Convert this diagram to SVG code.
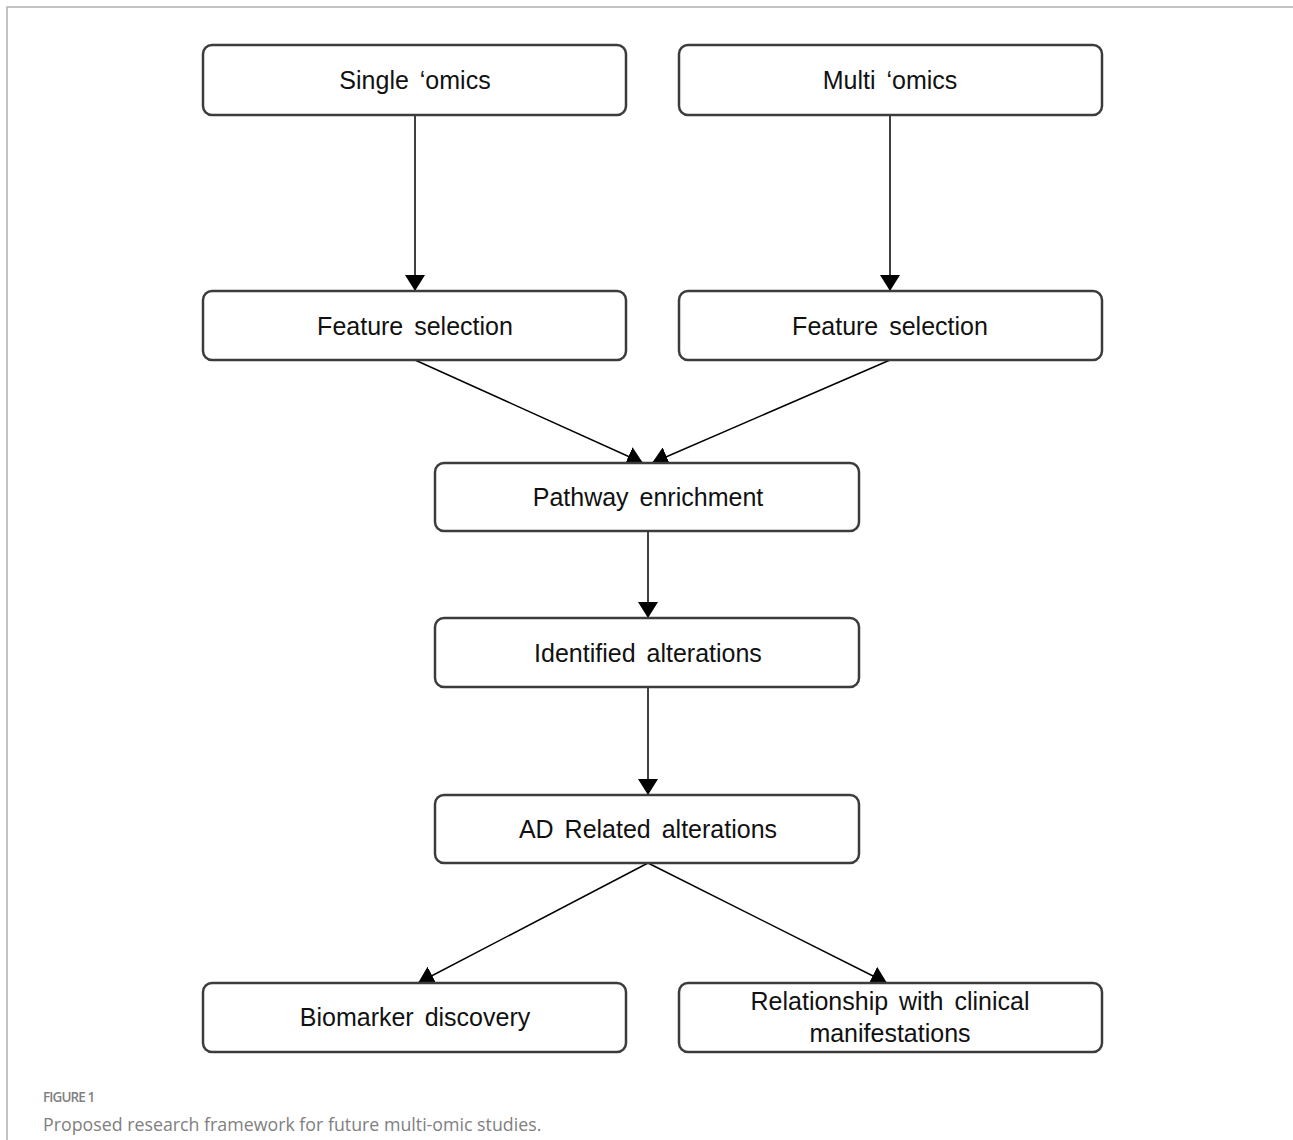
<svg xmlns="http://www.w3.org/2000/svg" width="1293" height="1140" viewBox="0 0 1293 1140">
<style>
.box{fill:#fff;stroke:#3c3c3c;stroke-width:2.5}
.t{font-family:"Liberation Sans",Arial,sans-serif;font-size:25px;fill:#111;text-anchor:middle;word-spacing:4px}
.c{stroke:#000;stroke-width:1.5;fill:none;marker-end:url(#ah)}
.cap{font-family:"Open Sans","Noto Sans",sans-serif;fill:#808080}
</style>
<defs>
<marker id="ah" viewBox="0 0 16 20" refX="16" refY="10" markerWidth="16" markerHeight="20" markerUnits="userSpaceOnUse" orient="auto">
<path d="M0,0 L16,10 L0,20 Z" fill="#000"/>
</marker>
</defs>
<rect width="1293" height="1140" fill="#fff"/>
<path d="M7,1140 V7 H1293" fill="none" stroke="#b0b0b0" stroke-width="1.5"/>
<g id="connectors">
<line class="c" x1="415" y1="115" x2="415" y2="291"/>
<line class="c" x1="890" y1="115" x2="890" y2="291"/>
<line class="c" x1="415" y1="360" x2="643" y2="463"/>
<line class="c" x1="890" y1="360" x2="652" y2="463"/>
<line class="c" x1="648" y1="531" x2="648" y2="618"/>
<line class="c" x1="648" y1="687" x2="648" y2="795"/>
<line class="c" x1="648" y1="863" x2="418" y2="983"/>
<line class="c" x1="648" y1="863" x2="887" y2="983"/>
</g>
<g id="single-omics"><rect class="box" x="203" y="45" width="423" height="70" rx="9"/><text class="t" x="415" y="89">Single ‘omics</text></g>
<g id="multi-omics"><rect class="box" x="679" y="45" width="423" height="70" rx="9"/><text class="t" x="890" y="89">Multi ‘omics</text></g>
<g id="feature-left"><rect class="box" x="203" y="291" width="423" height="69" rx="9"/><text class="t" x="415" y="335">Feature selection</text></g>
<g id="feature-right"><rect class="box" x="679" y="291" width="423" height="69" rx="9"/><text class="t" x="890" y="335">Feature selection</text></g>
<g id="pathway"><rect class="box" x="435" y="463" width="424" height="68" rx="9"/><text class="t" x="648" y="506">Pathway enrichment</text></g>
<g id="identified"><rect class="box" x="435" y="618" width="424" height="69" rx="9"/><text class="t" x="648" y="662">Identified alterations</text></g>
<g id="ad-related"><rect class="box" x="435" y="795" width="424" height="68" rx="9"/><text class="t" x="648" y="838">AD Related alterations</text></g>
<g id="biomarker"><rect class="box" x="203" y="983" width="423" height="69" rx="9"/><text class="t" x="415" y="1026">Biomarker discovery</text></g>
<g id="relationship"><rect class="box" x="679" y="983" width="423" height="69" rx="9"/><text class="t" x="890" y="1010">Relationship with clinical</text><text class="t" x="890" y="1042">manifestations</text></g>
<text class="cap" x="43" y="1102" font-size="13.5" font-weight="600" letter-spacing="-0.9">FIGURE 1</text>
<text class="cap" x="43" y="1131" font-size="17.8">Proposed research framework for future multi-omic studies.</text>
</svg>
